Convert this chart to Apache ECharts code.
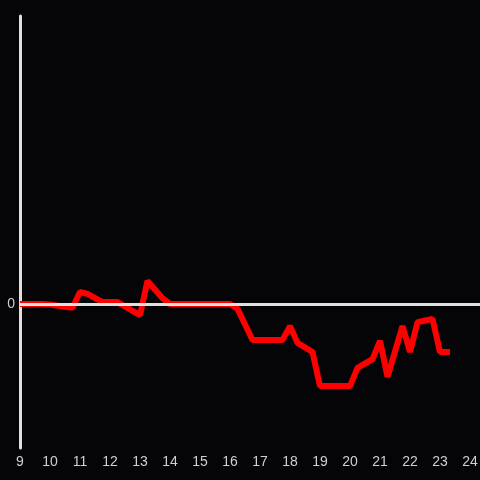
<!DOCTYPE html>
<html>
<head>
<meta charset="utf-8">
<script src="https://cdn.jsdelivr.net/npm/echarts@6/dist/echarts.min.js"></script>
<style>html,body{margin:0;padding:0;background:#050407;}#c{width:480px;height:480px;}</style>
</head>
<body>
<div id="c"></div>
<script>
var hours = [9.0, 9.75, 10.0, 10.5, 10.75, 11.0, 11.25, 11.75, 12.25, 13.0, 13.25, 13.75, 14.0, 16.0, 16.25, 16.75, 17.75, 18.0, 18.25, 18.75, 19.0, 20.0, 20.25, 20.75, 21.0, 21.25, 21.75, 22.0, 22.25, 22.75, 23.0, 23.33];
var values = [0, 0, -0.01, -0.06, -0.08, 0.25, 0.21, 0.04, 0.04, -0.23, 0.48, 0.12, 0, 0, -0.1, -0.75, -0.75, -0.46, -0.81, -1.0, -1.71, -1.71, -1.33, -1.15, -0.77, -1.52, -0.46, -1.0, -0.38, -0.31, -1.0, -1.0];
var xTicks = [9, 10, 11, 12, 13, 14, 15, 16, 17, 18, 19, 20, 21, 22, 23, 24];
var yTicks = [0];

var data = hours.map(function (h, i) { return [h, values[i]]; });
var chart = echarts.init(document.getElementById('c'));
chart.setOption({
  backgroundColor: '#050407',
  animation: false,
  grid: { left: 20, right: 0, top: 16, bottom: 32, containLabel: false, outerBoundsMode: 'none' },
  xAxis: {
    type: 'value', min: 9, max: 24.333, interval: 1,
    axisLine: { show: false }, axisTick: { show: false }, splitLine: { show: false },
    axisLabel: {
      color: '#d0d0d0', fontSize: 14, margin: 7,
      formatter: function (v) { return xTicks.indexOf(v) >= 0 ? String(v) : ''; }
    }
  },
  yAxis: {
    type: 'value', min: -3, max: 6, interval: 1,
    axisLine: { show: true, onZero: false, lineStyle: { color: '#e0e0e0', width: 3 } },
    axisTick: { show: false }, splitLine: { show: false },
    axisLabel: {
      color: '#d0d0d0', fontSize: 14, margin: 5,
      formatter: function (v) { return yTicks.indexOf(v) >= 0 ? String(v) : ''; }
    }
  },
  series: [{
    type: 'line', data: data, showSymbol: false, symbol: 'none',
    lineStyle: { color: '#ff0000', width: 6 },
    markLine: {
      silent: true, symbol: 'none', label: { show: false },
      lineStyle: { color: '#e0e0e0', width: 3, type: 'solid' },
      data: [{ yAxis: 0 }]
    },
    z: 3
  }]
});
</script>
</body>
</html>
